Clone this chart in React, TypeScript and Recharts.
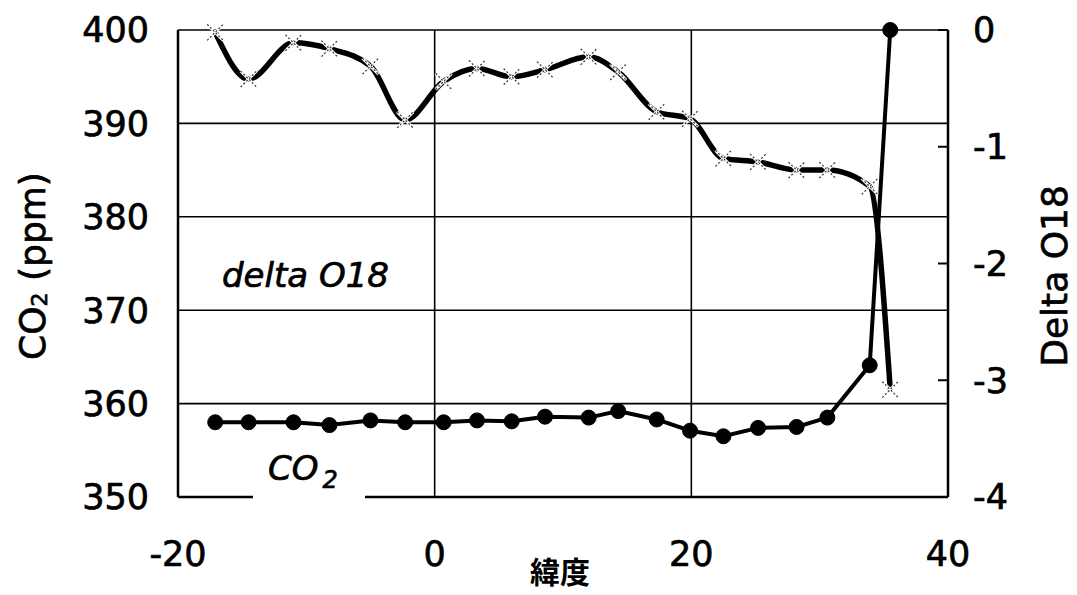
import React from 'react';
import { ComposedChart, Line, XAxis, YAxis, CartesianGrid } from 'recharts';

const latitude = [-17.1, -14.5, -11.0, -8.2, -5.0, -2.3, 0.7, 3.3, 6.0, 8.6, 12.0, 14.3, 17.3, 19.9, 22.5, 25.2, 28.2, 30.6, 33.9, 35.5];
const co2Ppm = [358.0, 358.0, 358.0, 357.7, 358.2, 358.0, 358.0, 358.2, 358.1, 358.6, 358.5, 359.2, 358.3, 357.1, 356.5, 357.4, 357.5, 358.5, 364.1, 400.0];
const deltaO18 = [-0.02, -0.42, -0.11, -0.16, -0.31, -0.77, -0.44, -0.33, -0.4, -0.34, -0.23, -0.36, -0.7, -0.76, -1.1, -1.13, -1.2, -1.2, -1.34, -3.08];

const xTicks = [-20, 0, 20, 40];
const co2Ticks = [350, 360, 370, 380, 390, 400];
const deltaTicks = [-4, -3, -2, -1, 0];

const data = latitude.map((lat, i) => ({ lat, co2: co2Ppm[i], delta: deltaO18[i] }));

const FONT = '"DejaVu Sans", "Liberation Sans", sans-serif';
const W = 1077;
const H = 595;
const TXT = { fill: '#000', stroke: '#000', strokeWidth: 0.7 };

const CrossDot = (props: any) => {
  const { cx, cy, index } = props;
  if (cx == null || cy == null) return <g key={`c${index}`} />;
  const s = 8;
  return (
    <g key={`c${index}`}>
      <line x1={cx - s} y1={cy - s} x2={cx + s} y2={cy + s} stroke="#fff" strokeWidth={3} />
      <line x1={cx - s} y1={cy + s} x2={cx + s} y2={cy - s} stroke="#fff" strokeWidth={3} />
      <line x1={cx - s} y1={cy - s} x2={cx + s} y2={cy + s} stroke="#333" strokeWidth={1.2} strokeDasharray="2 2" />
      <line x1={cx - s} y1={cy + s} x2={cx + s} y2={cy - s} stroke="#333" strokeWidth={1.2} strokeDasharray="2 2" />
    </g>
  );
};

const RightTick = (props: any) => {
  const { x, y, payload } = props;
  return (
    <g>
      <line x1={x - 10} x2={x} y1={y} y2={y} stroke="#000" strokeWidth={2} />
      <text x={x + 25} y={y} dy="0.355em" textAnchor="start" fontSize={35} fontFamily={FONT} {...TXT}>
        {payload.value}
      </text>
    </g>
  );
};

export default function App() {
  return (
    <div style={{ position: 'absolute', left: 0, top: 0, width: W, height: H, background: '#fff' }}>
      <ComposedChart width={W} height={H} data={data} margin={{ top: 30, right: 0, bottom: 0, left: 0 }}>
        <CartesianGrid yAxisId="l" stroke="#000" strokeWidth={1.6} horizontal vertical />
        <XAxis
          dataKey="lat"
          type="number"
          domain={[-20, 40]}
          ticks={xTicks}
          height={98}
          tickLine={false}
          tickSize={0}
          tickMargin={44}
          axisLine={{ stroke: '#000', strokeWidth: 2.5 }}
          tick={{ fontSize: 35, fontFamily: FONT, ...TXT }}
        />
        <YAxis
          yAxisId="l"
          orientation="left"
          type="number"
          domain={[350, 400]}
          ticks={co2Ticks}
          width={178}
          tickLine={false}
          tickSize={0}
          tickMargin={29}
          axisLine={{ stroke: '#000', strokeWidth: 2.5 }}
          tick={{ fontSize: 35, fontFamily: FONT, ...TXT }}
        />
        <YAxis
          yAxisId="r"
          orientation="right"
          type="number"
          domain={[-4, 0]}
          ticks={deltaTicks}
          width={129}
          tickLine={false}
          tickSize={0}
          tickMargin={0}
          axisLine={{ stroke: '#000', strokeWidth: 2.5 }}
          tick={<RightTick />}
        />
        <Line
          yAxisId="l"
          dataKey="co2"
          type="linear"
          stroke="#000"
          strokeWidth={4}
          dot={{ r: 7.5, fill: '#000', stroke: '#000', strokeWidth: 1 }}
          isAnimationActive={false}
        />
        <Line
          yAxisId="r"
          dataKey="delta"
          type="monotone"
          stroke="#000"
          strokeWidth={5.5}
          dot={CrossDot}
          isAnimationActive={false}
        />
      </ComposedChart>
      <svg width={W} height={H} style={{ position: 'absolute', left: 0, top: 0, pointerEvents: 'none' }}>
        <rect x={253} y={446} width={112} height={54} fill="#fff" />
        <text x={222} y={287} fontSize={34} fontStyle="italic" fontFamily={FONT} {...TXT}>delta O18</text>
        <text x={268} y={480} fontSize={34} fontStyle="italic" fontFamily={FONT} {...TXT}>
          CO<tspan fontSize={24} dx={4} dy={8}>2</tspan>
        </text>
        <text x={560} y={583} textAnchor="middle" fontSize={30} fontWeight={700} fontFamily='"Noto Sans CJK JP", sans-serif' fill="#000">緯度</text>
        <text transform="translate(45,266) rotate(-90)" textAnchor="middle" fontSize={36} fontFamily={FONT} {...TXT}>
          CO<tspan fontSize={22} dy={2}>2</tspan><tspan dy={-2}> (ppm)</tspan>
        </text>
        <text transform="translate(1067,276) rotate(-90)" textAnchor="middle" fontSize={36} fontFamily={FONT} {...TXT}>Delta O18</text>
      </svg>
    </div>
  );
}
